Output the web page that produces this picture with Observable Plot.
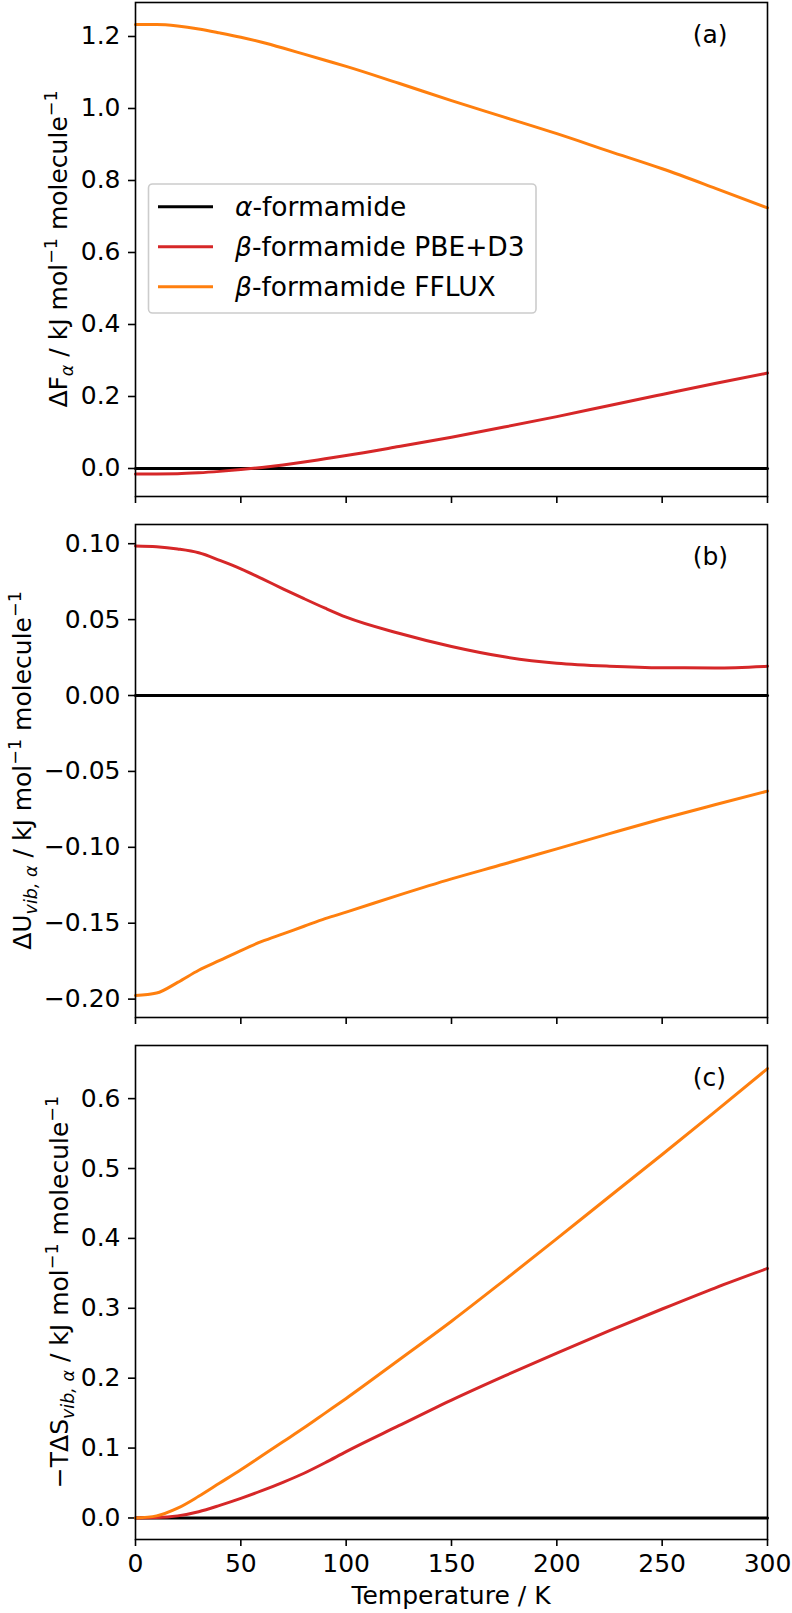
<!DOCTYPE html>
<html><head><meta charset="utf-8">
<script src="https://cdn.jsdelivr.net/npm/d3@7"></script>
<script src="https://cdn.jsdelivr.net/npm/@observablehq/plot@0.6"></script>
<style>
html,body{margin:0;padding:0;background:#fff;overflow:hidden;}
#wrap{position:relative;width:792px;height:1613px;font-family:"DejaVu Sans";}
#wrap svg{position:absolute;left:0;}
</style></head><body><div id="wrap"></div>
<script>
// ---- data ----
const T = [0,10,20,30,40,50,60,70,80,90,100,125,150,175,200,225,250,275,300];
const alphaRef = [0,0,0,0,0,0,0,0,0,0,0,0,0,0,0,0,0,0,0];
// (a) ΔF
const aPBE   = [-0.015,-0.015,-0.0145,-0.012,-0.008,-0.003,0.003,0.010,0.018,0.027,0.036,0.061,0.087,0.115,0.144,0.175,0.2056,0.236,0.265];
const aFFLUX = [1.233,1.233,1.229,1.221,1.210,1.198,1.184,1.168,1.151,1.134,1.117,1.070,1.022,0.976,0.930,0.881,0.8325,0.779,0.724];
// (b) ΔU_vib
const bPBE   = [0.0985,0.098,0.0965,0.094,0.089,0.0835,0.077,0.0703,0.0638,0.0575,0.0516,0.041,0.0323,0.0255,0.0213,0.0193,0.0183,0.0182,0.0193];
const bFFLUX = [-0.1976,-0.196,-0.189,-0.181,-0.1745,-0.168,-0.162,-0.157,-0.152,-0.147,-0.1427,-0.1315,-0.1208,-0.111,-0.101,-0.091,-0.0812,-0.072,-0.063];
// (c) -TΔS_vib
const cPBE   = [0,0.0005,0.003,0.009,0.018,0.028,0.039,0.051,0.064,0.079,0.095,0.132,0.1687,0.203,0.236,0.268,0.299,0.329,0.357];
const cFFLUX = [0,0.003,0.014,0.031,0.050,0.069,0.089,0.109,0.129,0.150,0.171,0.226,0.2815,0.340,0.3996,0.460,0.520,0.581,0.643];

const seriesNames = ["α-formamide", "β-formamide PBE+D3", "β-formamide FFLUX"];
const seriesColors = ["#000000", "#d62728", "#ff7f0e"];
const xTicks = [0,50,100,150,200,250,300];
const aTicks = [0,0.2,0.4,0.6,0.8,1.0,1.2];
const bTicks = [-0.20,-0.15,-0.10,-0.05,0,0.05,0.10];
const cTicks = [0,0.1,0.2,0.3,0.4,0.5,0.6];

// ---- layout ----
const W = 792, X0 = 135, X1 = 767, FS = 25, LFS = 26.5, FONT = "DejaVu Sans";
const wrap = document.getElementById("wrap");

function rows(vals){ return T.map((t,i)=>({T:t, v:vals[i]})); }

function addYLabel(svg, x, cy, parts){
  const t = d3.select(svg).append("text")
    .attr("transform", `translate(${x},${cy}) rotate(-90)`)
    .attr("text-anchor","middle").attr("font-size",FS)
    .attr("font-family",FONT).attr("fill","#000");
  let off = 0;
  parts.forEach(p=>{
    const ts = t.append("tspan").text(p.t);
    let target = 0;
    if (p.sub){ target = 6; ts.attr("font-size", FS*0.7); }
    if (p.sup){ target = -10; ts.attr("font-size", FS*0.7); }
    if (p.it) ts.attr("font-style","italic");
    if (target !== off){ ts.attr("dy", target-off); off = target; }
  });
}

function panel(o){
  const height = o.bottom - o.top;
  const marks = [
    Plot.axisX({ticks: xTicks, tickSize: 7, tickPadding: 8, strokeWidth: 1.6,
      tickFormat: o.xLabels ? (d=>String(d)) : (()=>""), label: null, fontSize: FS}),
    Plot.axisY({ticks: o.yTicks, tickSize: 7, tickPadding: 8, strokeWidth: 1.6,
      tickFormat: d3.format(o.yFmt), label: null, fontSize: FS})
  ];
  o.series.forEach((s,i)=>{
    marks.push(Plot.line(rows(s), {x:"T", y:"v", stroke: seriesColors[i], strokeWidth: 3, curve: "monotone-x"}));
  });
  marks.push(Plot.frame({stroke:"#000", strokeWidth:1.6}));
  const svg = Plot.plot({
    width: W, height,
    marginLeft: X0, marginRight: W - X1,
    marginTop: o.frameTop - o.top, marginBottom: o.bottom - o.frameBottom,
    style: {fontFamily: FONT, fontSize: FS+"px", background: "transparent", color: "#000", overflow: "visible"},
    x: {domain: [0,300]},
    y: {domain: o.yDomain},
    marks
  });
  svg.style.top = o.top + "px";
  wrap.appendChild(svg);
  // panel tag
  d3.select(svg).append("text").attr("x", 692.7).attr("y", o.frameTop - o.top + 40.5)
    .attr("text-anchor","start")
    .attr("font-size",FS).attr("font-family",FONT).attr("fill","#000").text(o.tag);
  addYLabel(svg, o.ylabelX, (o.frameTop + o.frameBottom)/2 - o.top, o.ylabel);
  return svg;
}

const unit = [{t:" / kJ mol"},{t:"−1",sup:true},{t:" molecule"},{t:"−1",sup:true}];

const svgA = panel({top:0, frameTop:2, frameBottom:496, bottom:504,
  yDomain:[-0.0778,1.2944], yTicks:aTicks, yFmt:".1f",
  series:[alphaRef,aPBE,aFFLUX], xLabels:false, tag:"(a)", ylabelX:67,
  ylabel:[{t:"ΔF"},{t:"α",sub:true,it:true}].concat(unit)});

panel({top:504, frameTop:524, frameBottom:1017, bottom:1025,
  yDomain:[-0.2121,0.11265], yTicks:bTicks, yFmt:".2f",
  series:[alphaRef,bPBE,bFFLUX], xLabels:false, tag:"(b)", ylabelX:31,
  ylabel:[{t:"ΔU"},{t:"vib, α",sub:true,it:true}].concat(unit)});

const svgC = panel({top:1025, frameTop:1045, frameBottom:1539, bottom:1613,
  yDomain:[-0.0308,0.676], yTicks:cTicks, yFmt:".1f",
  series:[alphaRef,cPBE,cFFLUX], xLabels:true, tag:"(c)", ylabelX:68,
  ylabel:[{t:"−TΔS"},{t:"vib, α",sub:true,it:true}].concat(unit)});

// x label
d3.select(svgC).append("text").attr("x", (X0+X1)/2).attr("y", 1604-1025)
  .attr("text-anchor","middle").attr("font-size",FS).attr("font-family",FONT)
  .attr("fill","#000").text("Temperature / K");

// legend in panel (a)
const lg = d3.select(svgA).append("g");
lg.append("rect").attr("x",148.5).attr("y",184).attr("width",387.5).attr("height",129)
  .attr("rx",4).attr("fill","#fff").attr("fill-opacity",0.8).attr("stroke","#cccccc").attr("stroke-width",1.6);
const legendLabels = [
  [{t:"α",it:true},{t:"-formamide"}],
  [{t:"β",it:true},{t:"-formamide PBE+D3"}],
  [{t:"β",it:true},{t:"-formamide FFLUX"}]
];
legendLabels.forEach((parts,i)=>{
  const y = 206.7 + i*40;
  lg.append("line").attr("x1",158).attr("x2",213).attr("y1",y).attr("y2",y)
    .attr("stroke",seriesColors[i]).attr("stroke-width",3);
  const tx = lg.append("text").attr("x",235).attr("y",y).attr("dy","0.35em")
    .attr("text-anchor","start")
    .attr("font-size",LFS).attr("font-family",FONT).attr("fill","#000");
  parts.forEach(p=>{ const s = tx.append("tspan").text(p.t); if(p.it) s.attr("font-style","italic"); });
});
</script></body></html>
